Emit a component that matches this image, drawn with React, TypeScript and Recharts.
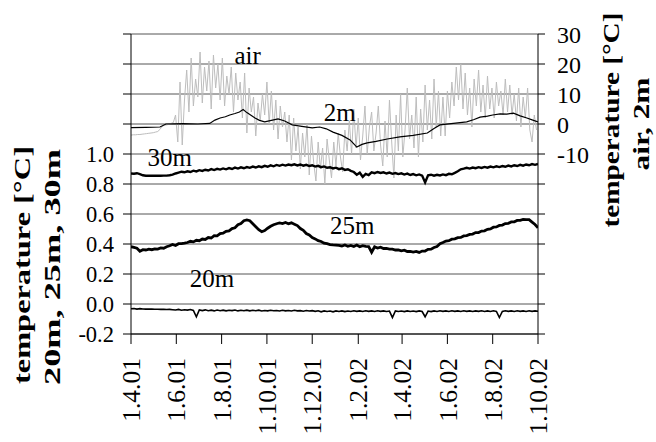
import React from 'react';
import { LineChart, Line, XAxis, YAxis, CartesianGrid, ReferenceDot } from 'recharts';

const FONT = '"Liberation Serif", "Times New Roman", "Liberation Sans", Arial, sans-serif';

// x tick positions (days since 1.4.01) and labels
const xTickDays = [0, 61, 122, 183, 244, 306, 365, 426, 487, 548];
const xTickLabels = ['1.4.01', '1.6.01', '1.8.01', '1.10.01', '1.12.01', '1.2.02', '1.4.02', '1.6.02', '1.8.02', '1.10.02'];

const leftTicks = [-0.2, 0, 0.2, 0.4, 0.6, 0.8, 1.0, 1.2, 1.4, 1.6, 1.8];
const rightTicks = [-70, -60, -50, -40, -30, -20, -10, 0, 10, 20, 30];

// air temperature, sampled every 3 days from 1.4.01 (right axis)
const airStep = 3;
const airTemps = [
  -3.7, -3.6, -3.6, -3.5, -3.5, -3.4, -3.3, -3.2, -3.1, -3.0,
  -2.9, -2.7, -2.5, -1.8, -0.8, -0.4, -0.3, -0.1, 0.2, 0.5,
  3, -6, 14, -7, 8, 18, 4, 22, 6, 15,
  9, 24, 7, 19, 11, 21, 5, 23, 12, 20,
  8, 22, 6, 16, 10, 19, 4, 17, 8, 14,
  2, 17, -3, 12, 4, 9, -4, 7, 1, 10,
  3, 14, 0, 11, -2, 8, -5, 6, -1, 4,
  -6, 3, -12, 2, -9, -1, -15, -3, -11, 0,
  -17, -4, -13, -19, -6, -15, -8, -20, -5, -12,
  -18, -6, -14, -3, -11, -16, -2, -9, 1, -10,
  5, -8, 2, -12, -4, 6, -10, -1, 4, -9,
  -3, 6, -7, -14, 1, -11, 8, -6, -18, 3,
  -9, 10, -11, -2, 12, -5, 3, -8, 9, -11,
  5, -6, 13, -2, 8, -5, 15, -1, 11, -4,
  9, -4, 11, 2, 14, 6, 19, 8, 20, 5,
  17, 3, 12, -1, 15, 6, 18, 4, 13, 2,
  16, 5, 12, 2, 14, 6, 11, 3, 15, 4,
  13, 3, 10, 1, 12, -1, 9, 2, 12, -2,
  -6, 3, -2,
];

// 2 m depth (right axis)
const m2Days = [0, 20, 39, 47, 70, 90, 106, 113, 120, 127, 133, 140, 146, 151, 156, 161, 167, 173, 180, 189, 198, 207, 217, 230, 244, 254, 263, 272, 284, 295, 300, 304, 311, 318, 330, 345, 362, 380, 399, 408, 416, 434, 452, 462, 470, 480, 487, 497, 506, 515, 524, 533, 541, 548];
const m2Temps = [-1.2, -1.1, -1.0, 0, 0.1, 0, 0.2, 1.3, 2.0, 2.4, 3.0, 3.5, 4.0, 4.8, 3.8, 3.0, 2.0, 1.2, 0.7, 1.2, 1.7, 1.0, -0.3, -0.8, -1.3, -1.0, -1.6, -2.7, -3.8, -5.3, -6.6, -7.7, -6.8, -6.3, -5.8, -5.0, -4.3, -3.8, -3.0, -1.5, -0.3, 0.2, 0.7, 1.5, 2.3, 2.6, 3.0, 3.4, 3.3, 3.6, 2.7, 2.0, 1.3, 0.7];

// deep sensors, sampled every 4 days (left axis)
const deepStep = 4;
const m30Temps = [
  0.870, 0.868, 0.872, 0.866, 0.858, 0.855, 0.855, 0.855, 0.855, 0.855,
  0.855, 0.856, 0.856, 0.858, 0.862, 0.870, 0.876, 0.882, 0.878, 0.885,
  0.880, 0.889, 0.884, 0.892, 0.887, 0.895, 0.890, 0.899, 0.893, 0.901,
  0.896, 0.904, 0.898, 0.906, 0.900, 0.909, 0.903, 0.911, 0.905, 0.913,
  0.908, 0.916, 0.910, 0.918, 0.912, 0.921, 0.915, 0.924, 0.918, 0.927,
  0.921, 0.929, 0.923, 0.930, 0.925, 0.931, 0.924, 0.930, 0.922, 0.928,
  0.920, 0.925, 0.916, 0.921, 0.912, 0.917, 0.908, 0.912, 0.904, 0.909,
  0.899, 0.905, 0.894, 0.898, 0.888, 0.880, 0.862, 0.875, 0.848, 0.868,
  0.860, 0.878, 0.872, 0.880, 0.874, 0.878, 0.870, 0.876, 0.868, 0.873,
  0.866, 0.871, 0.863, 0.869, 0.860, 0.866, 0.858, 0.864, 0.856, 0.810,
  0.858, 0.862, 0.855, 0.861, 0.857, 0.864, 0.859, 0.868, 0.865, 0.874,
  0.885, 0.898, 0.902, 0.908, 0.903, 0.910, 0.905, 0.912, 0.907, 0.914,
  0.909, 0.916, 0.911, 0.918, 0.913, 0.920, 0.915, 0.923, 0.917, 0.925,
  0.920, 0.928, 0.922, 0.930, 0.925, 0.933, 0.928, 0.934,
];
const m25Temps = [
  0.382, 0.378, 0.372, 0.352, 0.362, 0.360, 0.366, 0.362, 0.368, 0.366,
  0.374, 0.372, 0.382, 0.388, 0.397, 0.390, 0.402, 0.403, 0.406, 0.410,
  0.418, 0.414, 0.425, 0.422, 0.433, 0.430, 0.443, 0.440, 0.455, 0.454,
  0.469, 0.472, 0.485, 0.488, 0.503, 0.508, 0.528, 0.536, 0.555, 0.560,
  0.555, 0.535, 0.515, 0.495, 0.482, 0.490, 0.505, 0.518, 0.528, 0.535,
  0.540, 0.536, 0.543, 0.535, 0.541, 0.532, 0.523, 0.503, 0.491, 0.470,
  0.460, 0.443, 0.434, 0.422, 0.417, 0.406, 0.402, 0.396, 0.394, 0.393,
  0.391, 0.386, 0.393, 0.385, 0.390, 0.383, 0.393, 0.382, 0.389, 0.384,
  0.383, 0.345, 0.381, 0.373, 0.379, 0.370, 0.371, 0.366, 0.366, 0.360,
  0.361, 0.355, 0.359, 0.350, 0.351, 0.346, 0.351, 0.344, 0.353, 0.353,
  0.364, 0.366, 0.377, 0.383, 0.402, 0.410, 0.420, 0.422, 0.432, 0.434,
  0.442, 0.444, 0.454, 0.456, 0.464, 0.466, 0.476, 0.476, 0.486, 0.488,
  0.498, 0.501, 0.512, 0.514, 0.524, 0.526, 0.536, 0.538, 0.547, 0.548,
  0.557, 0.558, 0.564, 0.563, 0.562, 0.546, 0.530, 0.508,
];
const m20Temps = [
  -0.032, -0.030, -0.034, -0.031, -0.033, -0.034, -0.034, -0.034, -0.035, -0.035,
  -0.036, -0.035, -0.037, -0.036, -0.038, -0.040, -0.036, -0.042, -0.038, -0.041,
  -0.037, -0.043, -0.085, -0.040, -0.044, -0.039, -0.045, -0.041, -0.046, -0.040,
  -0.045, -0.041, -0.046, -0.042, -0.044, -0.040, -0.046, -0.042, -0.045, -0.041,
  -0.046, -0.042, -0.045, -0.041, -0.047, -0.043, -0.046, -0.042, -0.045, -0.043,
  -0.047, -0.042, -0.046, -0.043, -0.047, -0.042, -0.046, -0.044, -0.048, -0.043,
  -0.047, -0.044, -0.049, -0.045, -0.052, -0.046, -0.050, -0.047, -0.052, -0.046,
  -0.050, -0.046, -0.051, -0.047, -0.050, -0.045, -0.049, -0.046, -0.050, -0.045,
  -0.049, -0.046, -0.050, -0.045, -0.049, -0.046, -0.050, -0.047, -0.090, -0.046,
  -0.050, -0.047, -0.051, -0.046, -0.050, -0.047, -0.051, -0.046, -0.050, -0.085,
  -0.047, -0.051, -0.046, -0.050, -0.045, -0.049, -0.046, -0.050, -0.045, -0.049,
  -0.046, -0.050, -0.045, -0.049, -0.046, -0.050, -0.046, -0.049, -0.045, -0.050,
  -0.046, -0.050, -0.045, -0.049, -0.090, -0.050, -0.045, -0.049, -0.046, -0.050,
  -0.045, -0.049, -0.046, -0.050, -0.045, -0.049, -0.046, -0.048,
];

const airData = airTemps.map((v, i) => ({ day: i * airStep, v }));
const m2Data = m2Temps.map((v, i) => ({ day: m2Days[i], v }));
const m30Data = m30Temps.map((v, i) => ({ day: i * deepStep, v }));
const m25Data = m25Temps.map((v, i) => ({ day: i * deepStep, v }));
const m20Data = m20Temps.map((v, i) => ({ day: i * deepStep, v }));

const txt = { fontFamily: FONT, fill: '#000' };

const XTick = (props: any) => {
  const { x, payload } = props;
  const y = props.y + 12;
  const idx = xTickDays.indexOf(payload.value);
  const label = idx >= 0 ? xTickLabels[idx] : '';
  return (
    <text x={x} y={y} transform={`rotate(-90 ${x} ${y})`} textAnchor="end" dy="0.36em"
      fontSize={25.5} style={txt}>{label}</text>
  );
};

const titleText = (x: number, y: number, text: string, len: number) => (
  <text key={text} x={x} y={y} transform={`rotate(-90 ${x} ${y})`} textAnchor="middle" dy="0.35em"
    fontSize={23} fontWeight="bold" style={txt}
    textLength={len} lengthAdjust="spacingAndGlyphs">{text}</text>
);

const leftTitle = (props: any) => {
  const vb = props.viewBox || { x: 0, y: 34 };
  return (
    <g>
      {titleText(vb.x + 22, vb.y + 231, 'temperature [°C]', 238)}
      {titleText(vb.x + 52, vb.y + 233, '20m, 25m, 30m', 236)}
    </g>
  );
};

const rightTitle = (props: any) => {
  const vb = props.viewBox || { x: 538, y: 34 };
  return (
    <g>
      {titleText(vb.x + 73, vb.y + 86, 'temperature [°C]', 215)}
      {titleText(vb.x + 103, vb.y + 90, 'air, 2m', 93)}
    </g>
  );
};

const seriesLabel = (text: string) => (props: any) => {
  const vb = props.viewBox;
  const cx = vb.x + (vb.width || 0) / 2;
  const cy = vb.y + (vb.height || 0) / 2;
  return (
    <text x={cx} y={cy} textAnchor="middle" dy="0.36em" fontSize={25} style={txt}>{text}</text>
  );
};

export default function App() {
  return (
    <div style={{ position: 'absolute', left: 0, top: 0, width: 656, height: 442, background: '#fff', fontFamily: FONT }}>
      <LineChart width={656} height={442} margin={{ top: 34, right: 0, bottom: 0, left: 0 }}>
        <CartesianGrid yAxisId="left" vertical={false} stroke="#555" strokeWidth={1} />
        <XAxis dataKey="day" type="number" domain={[0, 548]} ticks={xTickDays} interval={0}
          height={108} tickSize={10} tick={<XTick />}
          axisLine={{ stroke: '#000' }} tickLine={{ stroke: '#000' }} allowDataOverflow />
        <YAxis yAxisId="left" orientation="left" type="number" domain={[-0.2, 1.8]} ticks={leftTicks}
          interval={0} width={131} tickSize={8} tickMargin={9} allowDataOverflow
          tickFormatter={(v: number) => (v > 1.01 ? '' : v.toFixed(1))}
          tick={{ fontSize: 22.5, style: txt, fill: '#000' }}
          axisLine={{ stroke: '#000' }} tickLine={{ stroke: '#000' }}
          label={{ content: leftTitle }} />
        <YAxis yAxisId="right" orientation="right" type="number" domain={[-70, 30]} ticks={rightTicks}
          interval={0} width={118} tickSize={7} tickMargin={12} allowDataOverflow
          tickFormatter={(v: number) => (v < -10 ? '' : String(v))}
          tick={{ fontSize: 24, style: txt, fill: '#000' }}
          axisLine={{ stroke: '#000' }} tickLine={{ stroke: '#000' }}
          label={{ content: rightTitle }} />
        <Line data={airData} dataKey="v" yAxisId="right" stroke="#bdbdbd" strokeWidth={1} dot={false} isAnimationActive={false} />
        <Line data={m2Data} dataKey="v" yAxisId="right" stroke="#000" strokeWidth={1.2} dot={false} isAnimationActive={false} />
        <Line data={m30Data} dataKey="v" yAxisId="left" stroke="#000" strokeWidth={2.4} dot={false} isAnimationActive={false} />
        <Line data={m25Data} dataKey="v" yAxisId="left" stroke="#000" strokeWidth={2.8} dot={false} isAnimationActive={false} />
        <Line data={m20Data} dataKey="v" yAxisId="left" stroke="#000" strokeWidth={1.6} dot={false} isAnimationActive={false} />
        <ReferenceDot x={157} y={22.9} yAxisId="right" r={0} fill="none" stroke="none" label={{ content: seriesLabel('air') }} />
        <ReferenceDot x={281} y={3.9} yAxisId="right" r={0} fill="none" stroke="none" label={{ content: seriesLabel('2m') }} />
        <ReferenceDot x={52} y={0.977} yAxisId="left" r={0} fill="none" stroke="none" label={{ content: seriesLabel('30m') }} />
        <ReferenceDot x={298} y={0.524} yAxisId="left" r={0} fill="none" stroke="none" label={{ content: seriesLabel('25m') }} />
        <ReferenceDot x={109} y={0.171} yAxisId="left" r={0} fill="none" stroke="none" label={{ content: seriesLabel('20m') }} />
      </LineChart>
    </div>
  );
}
